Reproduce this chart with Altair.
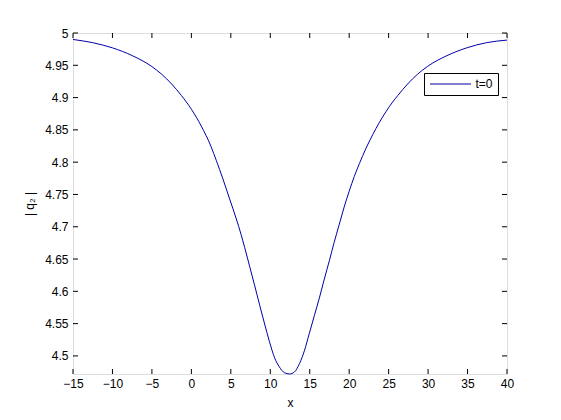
import altair as alt
import pandas as pd

# curve (t=0)
xs = [-15, -12.5, -10, -7.5, -5, -3.75, -2.5, -1.25, 0, 1.25, 2.5, 3.15, 4.0, 4.85, 5.7,
      6.3, 6.75, 7.4, 8.0, 8.65, 9.25, 9.9, 10.55, 11.15, 11.8, 12.45, 13.05, 13.7,
      14.35, 14.95, 15.6, 16.25, 16.85, 17.5, 18.1, 18.75, 19.4, 20.0, 20.65, 21.3,
      22.15, 23.0, 23.8, 24.65, 25.5, 26.15, 27.4, 28.65, 29.9, 32.4, 34.9, 37.4, 40]
ys = [4.990, 4.985, 4.977, 4.965, 4.948, 4.936, 4.921, 4.903, 4.882, 4.856, 4.824,
      4.803, 4.774, 4.743, 4.712, 4.688, 4.668, 4.638, 4.610, 4.579, 4.551, 4.522,
      4.497, 4.483, 4.474, 4.472, 4.475, 4.488, 4.509, 4.535, 4.563, 4.591, 4.619,
      4.648, 4.676, 4.704, 4.732, 4.755, 4.778, 4.798, 4.822, 4.843, 4.861, 4.878,
      4.893, 4.903, 4.921, 4.936, 4.948, 4.965, 4.977, 4.985, 4.989]
series = ["t=0"] * len(xs)

x_ticks = [-15, -10, -5, 0, 5, 10, 15, 20, 25, 30, 35, 40]
y_ticks = [4.5, 4.55, 4.6, 4.65, 4.7, 4.75, 4.8, 4.85, 4.9, 4.95, 5.0]

W, H = 434, 341
FONT = "Liberation Sans"
LINE = "#0000aa"

df = pd.DataFrame({"x": xs, "y": ys, "s": series})
xt = pd.DataFrame({"x": x_ticks})
yt = pd.DataFrame({"y": y_ticks})

xscale = alt.Scale(domain=[-15, 40], nice=False, zero=False)
yscale = alt.Scale(domain=[4.472, 5.0], nice=False, zero=False)

xaxis = alt.Axis(values=x_ticks, ticks=False, domain=False, grid=False,
                 labelOverlap=False, labelFlush=False,
                 labelFont=FONT, labelFontSize=12, labelColor="black",
                 labelPadding=4, title="x", titleFont=FONT,
                 titleFontSize=12, titleFontWeight="normal",
                 titleColor="black", titlePadding=8)
yaxis = alt.Axis(values=y_ticks, ticks=False, domain=False, grid=False,
                 labelOverlap=False, labelFlush=False,
                 format="~f", labelFont=FONT, labelFontSize=12,
                 labelColor="black", labelPadding=5, title="| q₂ |",
                 titleFont=FONT, titleFontSize=12,
                 titleFontWeight="normal", titleColor="black",
                 titlePadding=8)

line = alt.Chart(df).mark_line(strokeWidth=1, interpolate="monotone").encode(
    x=alt.X("x:Q", scale=xscale, axis=xaxis),
    y=alt.Y("y:Q", scale=yscale, axis=yaxis),
    color=alt.Color("s:N", scale=alt.Scale(range=[LINE]), title=None,
                    legend=alt.Legend(orient="none", legendX=351, legendY=40,
                                      strokeColor="black", fillColor="white",
                                      padding=5, symbolType="M-4.1,0H4.1",
                                      symbolSize=100, symbolOffset=15.5,
                                      symbolStrokeWidth=1, symbolStrokeColor=LINE,
                                      labelFont=FONT, labelFontSize=12,
                                      labelColor="black", labelOffset=19)),
)

tick_len = 5
top_ticks = alt.Chart(xt).mark_rule(color="black", strokeWidth=1).encode(
    x=alt.X("x:Q", scale=xscale, axis=xaxis), y=alt.value(0), y2=alt.value(tick_len))
bot_ticks = alt.Chart(xt).mark_rule(color="black", strokeWidth=1).encode(
    x=alt.X("x:Q", scale=xscale, axis=xaxis), y=alt.value(H), y2=alt.value(H - tick_len))
left_ticks = alt.Chart(yt).mark_rule(color="black", strokeWidth=1).encode(
    y=alt.Y("y:Q", scale=yscale, axis=yaxis), x=alt.value(0), x2=alt.value(tick_len))
right_ticks = alt.Chart(yt).mark_rule(color="black", strokeWidth=1).encode(
    y=alt.Y("y:Q", scale=yscale, axis=yaxis), x=alt.value(W), x2=alt.value(W - tick_len))

chart = alt.layer(line, top_ticks, bot_ticks, left_ticks, right_ticks).properties(
    width=W, height=H,
    autosize=alt.AutoSizeParams(type="none"),
    padding={"left": 65, "top": 25, "right": 45, "bottom": 40},
).configure_view(stroke="black", strokeWidth=1).configure_axis(
    labelOverlap=False
).configure(background="white")

chart.save("out.html", embed_options={"renderer": "svg", "actions": False})
